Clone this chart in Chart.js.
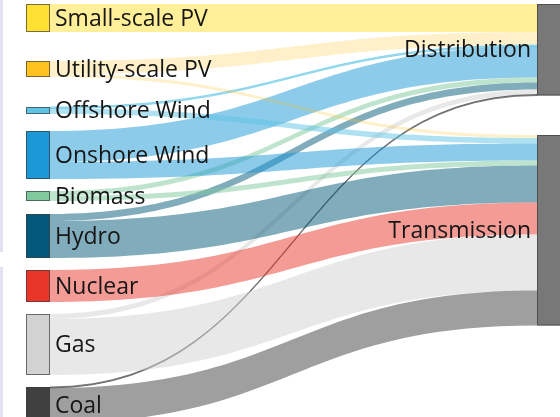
<!DOCTYPE html>
<html>
<head>
<meta charset="utf-8">
<title>Electricity generation by connection level</title>
<script src="https://cdn.jsdelivr.net/npm/chart.js@4.4.1/dist/chart.umd.min.js"></script>
<style>
  html, body { margin: 0; padding: 0; }
  body {
    width: 560px; height: 417px; overflow: hidden;
    background-image:
      linear-gradient(to bottom, transparent 252px, #ffffff 252px, #ffffff 267px, transparent 267px),
      linear-gradient(to right, #e6e1f1 3px, #ffffff 3px);
  }
  #wrap { position: relative; width: 560px; height: 417px; }
</style>
</head>
<body>
<div id="wrap"><canvas id="sankey"></canvas></div>
<script>
// Generation sources (left column) and grid connection levels (right column)
const sources = ['Small-scale PV', 'Utility-scale PV', 'Offshore Wind', 'Onshore Wind', 'Biomass', 'Hydro', 'Nuclear', 'Gas', 'Coal'];
const targets = ['Distribution', 'Transmission'];

// Flow from each source into each connection level
const toDistribution = [28, 13, 1.5, 31, 5, 7, 0, 5, 1];
const toTransmission = [0, 3, 5.5, 17, 5, 37, 32, 56, 35];

// Node colours
const sourceColors = ['#ffe033', '#ffc21f', '#5ec4e6', '#1b98d5', '#80c99d', '#04597a', '#e8372a', '#d2d2d2', '#404040'];
const targetColors = ['#787878', '#787878'];

// Layout and style settings: space above each node (in flow units), node width in px,
// opacity of each source's links
const layout = {
  sourceGaps: [0, 29, 30, 17, 12, 13, 12, 12, 12],
  targetGaps: [0, 39.5],
  nodeWidth: 24,
  linkAlpha: [0.5, 0.24, 0.5, 0.5, 0.5, 0.5, 0.5, 0.5, 0.5],
  font: '23px "Open Sans"',
  labelColor: '#161616'
};

function hexToRgba(hex, a) {
  const n = parseInt(hex.slice(1), 16);
  return `rgba(${(n >> 16) & 255},${(n >> 8) & 255},${n & 255},${a})`;
}

// Builds node and link geometry in flow units
function buildSankey() {
  const flows = [toDistribution, toTransmission];
  const srcNodes = [];
  let y = 0;
  sources.forEach((name, i) => {
    y += layout.sourceGaps[i];
    const total = flows.reduce((s, f) => s + f[i], 0);
    srcNodes.push({ name, y0: y, y1: y + total, color: sourceColors[i], cursor: y });
    y += total;
  });
  const tgtNodes = [];
  y = 0;
  targets.forEach((name, j) => {
    y += layout.targetGaps[j];
    const total = flows[j].reduce((s, v) => s + v, 0);
    tgtNodes.push({ name, y0: y, y1: y + total, color: targetColors[j], cursor: y });
    y += total;
  });
  const links = [];
  targets.forEach((t, j) => {
    sources.forEach((s, i) => {
      const v = flows[j][i];
      if (!v) return;
      links.push({ i, j, v });
    });
  });
  // source side: links stacked in target order; target side: in source order
  sources.forEach((s, i) => {
    links.filter(l => l.i === i).sort((a, b) => a.j - b.j).forEach(l => {
      l.s0 = srcNodes[i].cursor; l.s1 = l.s0 + l.v; srcNodes[i].cursor = l.s1;
    });
  });
  targets.forEach((t, j) => {
    links.filter(l => l.j === j).sort((a, b) => a.i - b.i).forEach(l => {
      l.t0 = tgtNodes[j].cursor; l.t1 = l.t0 + l.v; tgtNodes[j].cursor = l.t1;
    });
  });
  return { srcNodes, tgtNodes, links };
}

const sankeyPlugin = {
  id: 'sankeyDraw',
  afterDatasetsDraw(chart) {
    const { ctx, scales: { x, y } } = chart;
    const { srcNodes, tgtNodes, links } = buildSankey();
    const w = layout.nodeWidth;
    const xs = x.getPixelForValue(0);
    const xt = x.getPixelForValue(1);
    const lx0 = xs + w, lx1 = xt, xm = (lx0 + lx1) / 2;

    ctx.save();
    // links
    links.forEach(l => {
      const a0 = y.getPixelForValue(l.s0), a1 = y.getPixelForValue(l.s1);
      const b0 = y.getPixelForValue(l.t0), b1 = y.getPixelForValue(l.t1);
      ctx.beginPath();
      ctx.moveTo(lx0, a0);
      ctx.bezierCurveTo(xm, a0, xm, b0, lx1, b0);
      ctx.lineTo(lx1, b1);
      ctx.bezierCurveTo(xm, b1, xm, a1, lx0, a1);
      ctx.closePath();
      ctx.fillStyle = hexToRgba(sourceColors[l.i], layout.linkAlpha[l.i]);
      ctx.fill();
      if (l.v < 2) {
        ctx.strokeStyle = hexToRgba(sourceColors[l.i], 0.8);
        ctx.lineWidth = 0.8;
        ctx.stroke();
      }
    });
    // nodes
    const drawNode = (n, left) => {
      const top = y.getPixelForValue(n.y0), bot = y.getPixelForValue(n.y1);
      ctx.fillStyle = n.color;
      ctx.fillRect(left, top, w, bot - top);
      ctx.strokeStyle = 'rgba(60,60,60,0.7)';
      ctx.lineWidth = 1;
      ctx.strokeRect(left + 0.5, top + 0.5, w - 1, bot - top - 1);
    };
    srcNodes.forEach(n => drawNode(n, xs));
    tgtNodes.forEach(n => drawNode(n, xt));
    // labels
    ctx.font = layout.font;
    ctx.fillStyle = layout.labelColor;
    ctx.textBaseline = 'middle';
    ctx.textAlign = 'left';
    srcNodes.forEach(n => {
      const cy = (y.getPixelForValue(n.y0) + y.getPixelForValue(n.y1)) / 2;
      ctx.fillText(n.name, xs + w + 5, cy + 1);
    });
    ctx.textAlign = 'right';
    tgtNodes.forEach(n => {
      const cy = (y.getPixelForValue(n.y0) + y.getPixelForValue(n.y1)) / 2;
      ctx.fillText(n.name, xt - 6, cy + 1);
    });
    ctx.restore();
  }
};

new Chart(document.getElementById('sankey'), {
  type: 'scatter',
  data: { datasets: [] },
  options: {
    responsive: true,
    maintainAspectRatio: false,
    animation: false,
    events: [],
    layout: { padding: { left: 26, right: 23, top: 4, bottom: 0 } },
    scales: {
      x: { type: 'linear', min: 0, max: 1, display: false },
      y: { type: 'linear', min: 0, max: 413, reverse: true, display: false }
    },
    plugins: { legend: { display: false }, tooltip: { enabled: false } }
  },
  plugins: [sankeyPlugin]
});
</script>
</body>
</html>
